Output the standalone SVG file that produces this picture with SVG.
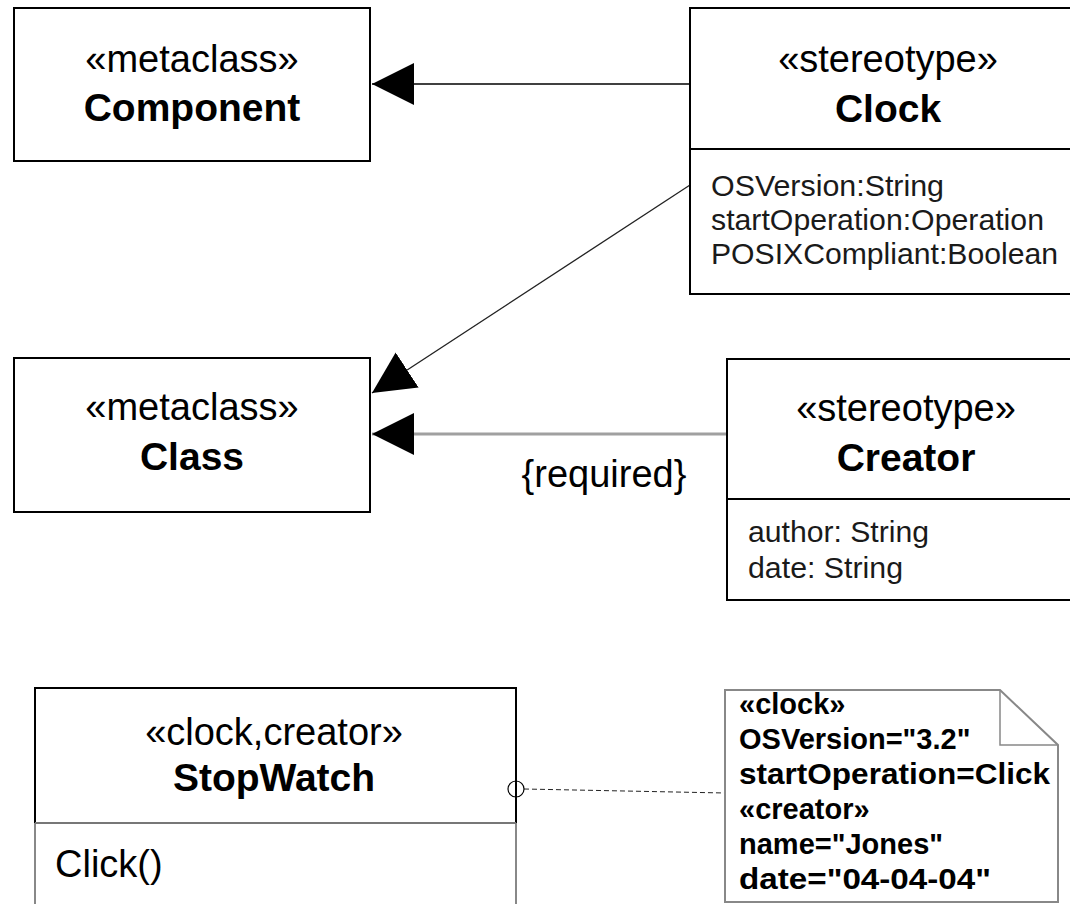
<svg xmlns="http://www.w3.org/2000/svg" width="1070" height="904" viewBox="0 0 1070 904">
<style>
.box{fill:#fff;stroke:#000;stroke-width:2}
.div{stroke:#000;stroke-width:2}
.st{font-family:"Liberation Sans",Arial,sans-serif;font-size:38px;fill:#000;text-anchor:middle}
.nm{font-family:"Liberation Sans",Arial,sans-serif;font-size:39px;font-weight:bold;fill:#000;text-anchor:middle}
.at{font-family:"Liberation Sans",Arial,sans-serif;font-size:29px;fill:#1a1a1a}
.nt{font-family:"Liberation Sans",Arial,sans-serif;font-size:29px;font-weight:bold;fill:#000}
</style>
<defs>
<marker id="tri" markerUnits="userSpaceOnUse" markerWidth="44" markerHeight="44" refX="42" refY="21" orient="auto" viewBox="0 0 44 44">
<path d="M0,0 L42,21 L0,42 Z" fill="#000"/>
</marker>
</defs>
<rect width="1070" height="904" fill="#fff"/>
<g id="connectors">
<line x1="690" y1="84" x2="372" y2="84" stroke="#000" stroke-width="1.5" marker-end="url(#tri)"/>
<line x1="690" y1="185" x2="372" y2="393" stroke="#222" stroke-width="1.3" marker-end="url(#tri)"/>
<line x1="727" y1="434" x2="372" y2="434" stroke="#a0a0a0" stroke-width="3" marker-end="url(#tri)"/>
<text class="st" x="604" y="487" style="text-anchor:middle">{required}</text>
<line x1="524" y1="789" x2="725" y2="793" stroke="#222" stroke-width="1" stroke-dasharray="5,3"/>
</g>
<g id="component">
<rect class="box" x="14" y="8" width="356" height="153"/>
<text class="st" x="192" y="72">«metaclass»</text>
<text class="nm" x="192" y="121">Component</text>
</g>
<g id="clock">
<rect class="box" x="690" y="8" width="400" height="286"/>
<line class="div" x1="690" y1="149" x2="1090" y2="149"/>
<text class="st" x="888" y="72">«stereotype»</text>
<text class="nm" x="888" y="122">Clock</text>
<text class="at" x="711" y="196" textLength="233" lengthAdjust="spacingAndGlyphs">OSVersion:String</text>
<text class="at" x="711" y="230" textLength="333" lengthAdjust="spacingAndGlyphs">startOperation:Operation</text>
<text class="at" x="711" y="264" textLength="347" lengthAdjust="spacingAndGlyphs">POSIXCompliant:Boolean</text>
</g>
<g id="class">
<rect class="box" x="14" y="358" width="356" height="154"/>
<text class="st" x="192" y="420">«metaclass»</text>
<text class="nm" x="192" y="470">Class</text>
</g>
<g id="creator">
<rect class="box" x="727" y="359" width="400" height="241"/>
<line class="div" x1="727" y1="499" x2="1090" y2="499"/>
<text class="st" x="906" y="421">«stereotype»</text>
<text class="nm" x="906" y="471">Creator</text>
<text class="at" x="748" y="542" textLength="181" lengthAdjust="spacingAndGlyphs">author: String</text>
<text class="at" x="748" y="578" textLength="155" lengthAdjust="spacingAndGlyphs">date: String</text>
</g>
<g id="stopwatch">
<rect x="35" y="688" width="481" height="240" fill="#fff" stroke="#888" stroke-width="2"/>
<path d="M35,823 V688 H516 V823" fill="none" stroke="#000" stroke-width="2"/>
<line x1="35" y1="823" x2="516" y2="823" stroke="#777" stroke-width="2"/>
<text class="st" x="274" y="745">«clock,creator»</text>
<text class="nm" x="274" y="791">StopWatch</text>
<text class="st" x="55" y="877" style="text-anchor:start">Click()</text>
<circle cx="516" cy="789" r="8" fill="none" stroke="#000" stroke-width="1.2"/>
</g>
<g id="note">
<path d="M725,690 H1000 L1058,745 V902 H725 Z" fill="#fff" stroke="#888" stroke-width="2"/>
<path d="M1000,690 V745 H1058" fill="none" stroke="#888" stroke-width="1.5"/>
<text class="nt" x="739" y="714">«clock»</text>
<text class="nt" x="739" y="749">OSVersion="3.2"</text>
<text class="nt" x="739" y="784" textLength="311" lengthAdjust="spacingAndGlyphs">startOperation=Click</text>
<text class="nt" x="739" y="819">«creator»</text>
<text class="nt" x="739" y="854">name="Jones"</text>
<text class="nt" x="739" y="889" textLength="252" lengthAdjust="spacingAndGlyphs">date="04-04-04"</text>
</g>
</svg>
